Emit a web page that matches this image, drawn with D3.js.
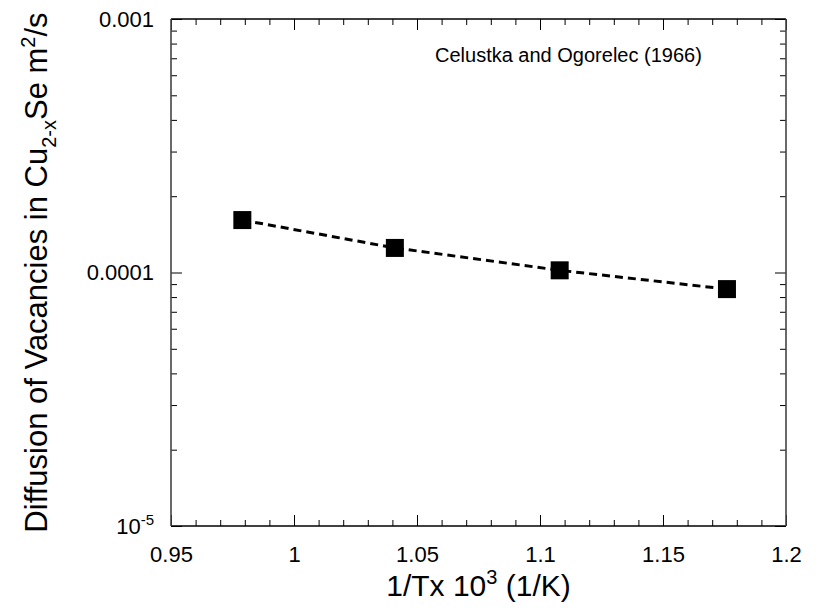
<!DOCTYPE html>
<html>
<head>
<meta charset="utf-8">
<script src="https://cdn.jsdelivr.net/npm/d3@7"></script>
<style>
  body { margin: 0; background: #fff; }
  text { font-family: "Liberation Sans", Arial, sans-serif; fill: #000; }
</style>
</head>
<body>
<svg id="chart" width="819" height="613"></svg>
<script>
// Vacancy diffusion in Cu(2-x)Se versus reciprocal temperature
const invTemp   = [0.979, 1.041, 1.108, 1.176];          // 1/T x 10^3 (1/K)
const diffusion = [1.61e-4, 1.25e-4, 1.02e-4, 8.6e-5];   // m^2/s
const xTicks = [0.95, 1, 1.05, 1.1, 1.15, 1.2];
const xMinorTicks = d3.range(95, 121).map(d => d / 100);
const yTicks = [1e-5, 1e-4, 1e-3];
const yTickLabels = ["10^-5", "0.0001", "0.001"];
const yMinorTicks = [];
[1e-5, 1e-4].forEach(base => { for (let m = 2; m <= 9; m++) yMinorTicks.push(m * base); });
const sourceNote = "Celustka and Ogorelec (1966)";

const svg = d3.select("#chart");
const plotLeft = 171, plotRight = 786, plotTop = 19, plotBottom = 526;

const x = d3.scaleLinear().domain([0.95, 1.2]).range([plotLeft, plotRight]);
const y = d3.scaleLog().domain([1e-5, 1e-3]).range([plotBottom, plotTop]);

const majorLen = 11, minorLen = 6;

function strip(g) { g.select(".domain").remove(); g.selectAll("line").attr("stroke", "#000"); }

// bottom axis with labels
svg.append("g").attr("transform", `translate(0,${plotBottom})`)
  .call(d3.axisBottom(x).tickValues(xTicks).tickSize(-majorLen).tickPadding(20.5)
        .tickFormat(d3.format("")))
  .call(strip)
  .call(g => g.selectAll("text").attr("font-size", 22).attr("font-family", null));
svg.append("g").attr("transform", `translate(0,${plotBottom})`)
  .call(d3.axisBottom(x).tickValues(xMinorTicks).tickSize(-minorLen).tickFormat(""))
  .call(strip);
// top axis
svg.append("g").attr("transform", `translate(0,${plotTop})`)
  .call(d3.axisTop(x).tickValues(xTicks).tickSize(-majorLen).tickFormat(""))
  .call(strip);
svg.append("g").attr("transform", `translate(0,${plotTop})`)
  .call(d3.axisTop(x).tickValues(xMinorTicks).tickSize(-minorLen).tickFormat(""))
  .call(strip);

// left axis with labels
const yLeft = svg.append("g").attr("transform", `translate(${plotLeft},0)`)
  .call(d3.axisLeft(y).tickValues(yTicks).tickSize(-majorLen).tickPadding(17)
        .tickFormat((d, i) => yTickLabels[i]))
  .call(strip);
yLeft.selectAll("text").attr("font-size", 22).attr("font-family", null)
  .each(function(d, i) {
    const label = yTickLabels[i];
    if (label.includes("^")) {
      const [base, exp] = label.split("^");
      const t = d3.select(this).text(null);
      t.append("tspan").text(base);
      t.append("tspan").attr("dy", "-0.55em").attr("font-size", 15).text(exp);
    }
  });
svg.append("g").attr("transform", `translate(${plotLeft},0)`)
  .call(d3.axisLeft(y).tickValues(yMinorTicks).tickSize(-minorLen).tickFormat(""))
  .call(strip);
// right axis
svg.append("g").attr("transform", `translate(${plotRight},0)`)
  .call(d3.axisRight(y).tickValues(yTicks).tickSize(-majorLen).tickFormat(""))
  .call(strip);
svg.append("g").attr("transform", `translate(${plotRight},0)`)
  .call(d3.axisRight(y).tickValues(yMinorTicks).tickSize(-minorLen).tickFormat(""))
  .call(strip);

// plot frame: dark top/bottom, slightly greyer sides
svg.append("line").attr("x1", plotLeft).attr("x2", plotRight).attr("y1", plotTop).attr("y2", plotTop)
  .attr("stroke", "#000").attr("stroke-width", 1.3);
svg.append("line").attr("x1", plotLeft).attr("x2", plotRight).attr("y1", plotBottom).attr("y2", plotBottom)
  .attr("stroke", "#000").attr("stroke-width", 1.3);
svg.append("line").attr("x1", plotLeft).attr("x2", plotLeft).attr("y1", plotTop).attr("y2", plotBottom)
  .attr("stroke", "#444").attr("stroke-width", 1.6);
svg.append("line").attr("x1", plotRight).attr("x2", plotRight).attr("y1", plotTop).attr("y2", plotBottom)
  .attr("stroke", "#444").attr("stroke-width", 1.6);

// data line and markers
const pts = invTemp.map((v, i) => [v, diffusion[i]]);
svg.append("path")
  .datum(pts)
  .attr("fill", "none").attr("stroke", "#000").attr("stroke-width", 3)
  .attr("stroke-dasharray", "8,5")
  .attr("d", d3.line().x(d => x(d[0])).y(d => y(d[1])));

const size = 18;
svg.append("g").selectAll("rect").data(pts).join("rect")
  .attr("x", d => x(d[0]) - size / 2).attr("y", d => y(d[1]) - size / 2)
  .attr("width", size).attr("height", size).attr("fill", "#000");

// annotation
svg.append("text").attr("x", 435).attr("y", 62).attr("font-size", 20).text(sourceNote);

// axis titles
const xt = svg.append("text").attr("x", (plotLeft + plotRight) / 2).attr("y", 596)
  .attr("text-anchor", "middle").attr("font-size", 30);
xt.append("tspan").text("1/Tx 10");
xt.append("tspan").attr("font-size", 20).attr("dy", -12).text("3");
xt.append("tspan").attr("dy", 12).text(" (1/K)");

const yt = svg.append("text")
  .attr("transform", `translate(47,${(plotTop + plotBottom) / 2}) rotate(-90)`)
  .attr("text-anchor", "middle").attr("font-size", 31);
yt.append("tspan").text("Diffusion of Vacancies in Cu");
yt.append("tspan").attr("font-size", 20).attr("dy", 9).text("2-x");
yt.append("tspan").attr("dy", -9).text("Se m");
yt.append("tspan").attr("font-size", 20).attr("dy", -12).text("2");
yt.append("tspan").attr("dy", 12).text("/s");
</script>
</body>
</html>
